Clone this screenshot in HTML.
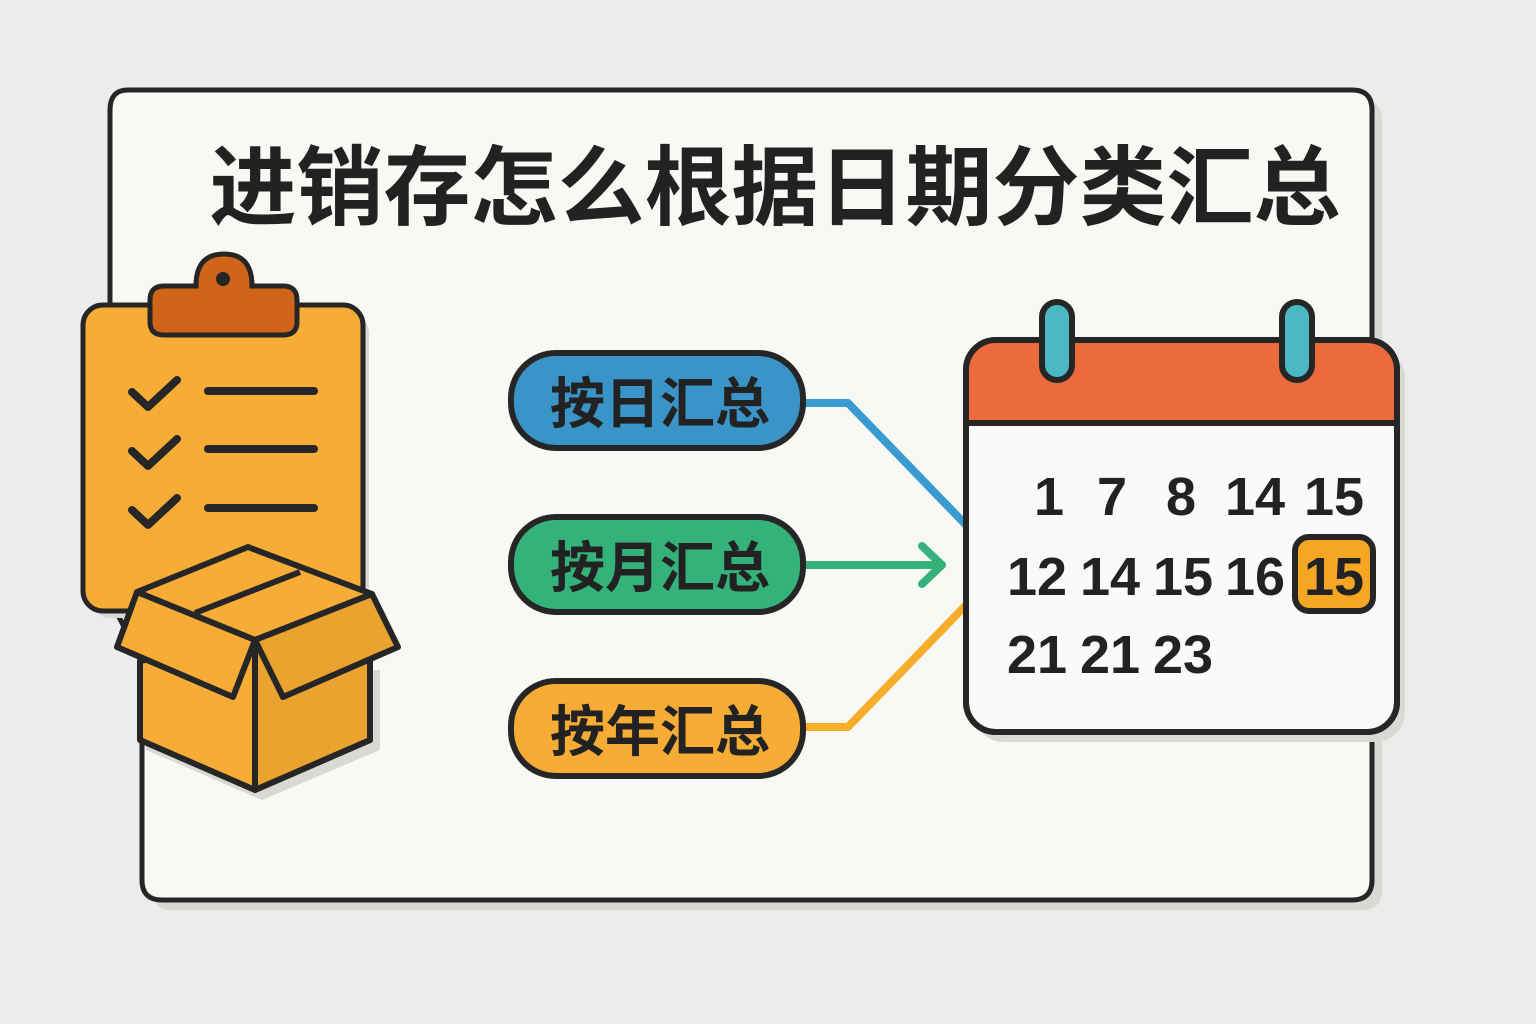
<!DOCTYPE html>
<html><head><meta charset="utf-8"><style>
html,body{margin:0;padding:0;background:#ececea;}
svg{display:block}
.cjk{font-family:"Liberation Sans","Noto Sans CJK SC",sans-serif;font-weight:bold;fill:#222}
.num{font-family:"Liberation Sans","DejaVu Sans",sans-serif;font-weight:bold;fill:#222;font-size:54px;text-anchor:middle}
</style></head><body>
<svg width="1536" height="1024" viewBox="0 0 1536 1024" xmlns="http://www.w3.org/2000/svg">
<rect width="1536" height="1024" fill="#ececea"/>
<path d="M134,100 H1362 q20,0 20,20 V890 q0,20 -20,20 H172 q-20,0 -20,-20 V671 L120,610 V120 q0,-20 20,-20Z" fill="#d8d8d5"/>
<path d="M128,90 H1352 q20,0 20,20 V880 q0,20 -20,20 H162 q-20,0 -20,-20 V661 L110,600 V110 q0,-20 18,-20Z" fill="#f8f8f5" stroke="#262626" stroke-width="5"/>
<text x="775" y="218" class="cjk" font-size="87" text-anchor="middle">进销存怎么根据日期分类汇总</text>

<rect x="90" y="313" width="279" height="305" rx="20" fill="#d8d8d5"/>
<rect x="83" y="305" width="280" height="306" rx="20" fill="#f7ac35" stroke="#262626" stroke-width="5"/>
<path d="M150,300 q0,-14 14,-14 h32 q0,-32 28,-32 q28,0 28,32 h31 q14,0 14,14 v22 q0,13 -14,13 h-119 q-14,0 -14,-13Z" fill="#d06418" stroke="#262626" stroke-width="5"/>
<circle cx="223" cy="279" r="7" fill="#262626"/>
<g stroke="#262626" stroke-width="8" stroke-linecap="round" stroke-linejoin="round" fill="none">
<polyline points="132,392 148,407 177,380"/>
<polyline points="132,451 148,466 177,439"/>
<polyline points="132,510 148,525 177,498"/>
<line x1="208" y1="391" x2="314" y2="391"/>
<line x1="208" y1="449" x2="314" y2="449"/>
<line x1="208" y1="508" x2="314" y2="508"/>
</g>
<g stroke="#262626" stroke-width="6" stroke-linejoin="round">
<path d="M146,670 L380,670 L380,750 L262,800 L146,750Z" fill="#d8d8d5" stroke="none"/>
<path d="M137,592 L248,547 L372,594 L255,640Z" fill="#f7ac35"/>
<path d="M140,661 L140,740 L255,790 L370,740 L370,661 L255,640Z" fill="#f7ac35"/>
<path d="M255,640 L370,661 L370,740 L255,790Z" fill="#eba330"/>
<line x1="255" y1="640" x2="255" y2="790"/>
<path d="M137,592 L117,647 L233,697 L255,640Z" fill="#f7ac35"/>
<path d="M372,594 L398,647 L283,697 L255,640Z" fill="#eba330"/>
<line x1="195" y1="613" x2="300" y2="572"/>
</g>

<g fill="none" stroke-width="8" stroke-linecap="round" stroke-linejoin="round">
<polyline points="800,403 848,403 966,525" stroke="#3a9bd0"/>
<polyline points="800,565 942,565" stroke="#34b27a"/>
<polyline points="922,546 942,565 922,584" stroke="#34b27a"/>
<polyline points="800,727 848,727 966,605" stroke="#f5ad2a"/>
</g>
<g stroke="#262626" stroke-width="6">
<rect x="511" y="353" width="292" height="95" rx="45" fill="#3a94c8"/>
<rect x="511" y="517" width="292" height="95" rx="45" fill="#34b27a"/>
<rect x="511" y="681" width="292" height="95" rx="45" fill="#f7ac35"/>
</g>
<g class="cjk" font-size="55" text-anchor="middle">
<text x="660" y="423">按日汇总</text>
<text x="660" y="587">按月汇总</text>
<text x="660" y="751">按年汇总</text>
</g>

<rect x="974" y="348" width="431" height="394" rx="30" fill="#d8d8d5"/>
<rect x="966" y="340" width="431" height="392" rx="30" fill="#fafaf8" stroke="#262626" stroke-width="6"/>
<path d="M969,423 V370 q0,-27 27,-27 H1367 q27,0 27,27 V423Z" fill="#ec6a3c"/>
<line x1="966" y1="423" x2="1397" y2="423" stroke="#262626" stroke-width="6"/>
<rect x="966" y="340" width="431" height="392" rx="30" fill="none" stroke="#262626" stroke-width="6"/>
<rect x="1042" y="302" width="30" height="78" rx="15" fill="#4bb8c4" stroke="#262626" stroke-width="6"/>
<rect x="1282" y="302" width="30" height="78" rx="15" fill="#4bb8c4" stroke="#262626" stroke-width="6"/>
<rect x="1295" y="537" width="78" height="74" rx="14" fill="#f5a623" stroke="#262626" stroke-width="6"/>
<g class="num">
<text x="1049" y="515">1</text><text x="1112" y="515">7</text><text x="1181" y="515">8</text><text x="1255" y="515">14</text><text x="1334" y="515">15</text>
<text x="1037" y="595">12</text><text x="1110" y="595">14</text><text x="1183" y="595">15</text><text x="1255" y="595">16</text><text x="1334" y="595">15</text>
<text x="1037" y="673">21</text><text x="1110" y="673">21</text><text x="1183" y="673">23</text>
</g>
</svg>
</body></html>
